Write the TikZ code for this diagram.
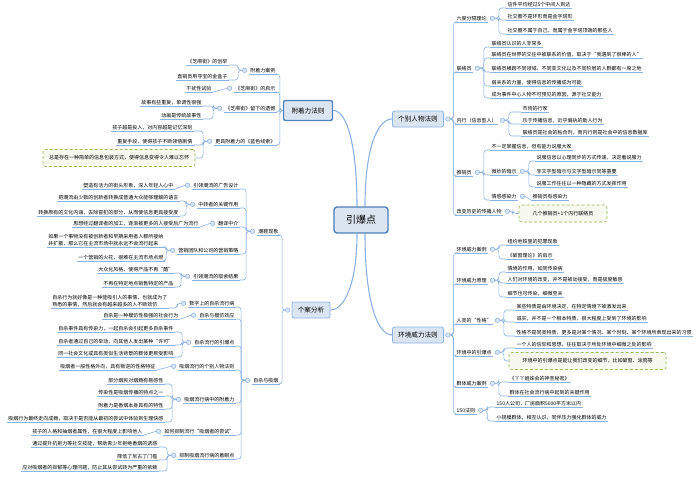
\documentclass[tikz,border=0pt]{standalone}
\usepackage{fontspec}
\setmainfont{Noto Sans CJK SC}
\usetikzlibrary{positioning}

\definecolor{lineblue}{HTML}{8DB3E2}
\definecolor{boxfill}{HTML}{DBE5F1}
\definecolor{hubline}{HTML}{4F81BD}
\definecolor{memoline}{HTML}{9BBB59}
\definecolor{memofill}{HTML}{F7F9EE}

\tikzset{
  hub/.style={draw=hubline, fill=boxfill, line width=1.4pt, rounded corners=3pt,
    minimum width=54pt, minimum height=26pt, font=\fontsize{10}{12}\selectfont},
  major/.style={draw=lineblue, fill=boxfill, line width=.8pt, rounded corners=2pt,
    minimum width=51pt, minimum height=16pt, font=\fontsize{6.6}{7.5}\selectfont},
  cn/.style={draw=lineblue, line width=.6pt, rounded corners=3pt},
  uline/.style={draw=lineblue, line width=.6pt},
  tp/.style={font=\fontsize{5}{6.5}\selectfont, inner xsep=1.5pt, inner ysep=1.2pt,
    append after command={(\tikzlastnode.south west) edge[uline] (\tikzlastnode.south east)}},
  tpr/.style={tp, anchor=south west},
  tpl/.style={tp, anchor=south east, align=left},
  dot/.style={circle, draw=lineblue, fill=boxfill, line width=.5pt, inner sep=0pt, minimum size=4.5pt},
  memo/.style={draw=memoline, densely dashed, fill=memofill, line width=.6pt, rounded corners=2.5pt,
    minimum height=17pt, font=\fontsize{5}{6.5}\selectfont},
  trunk/.style={draw=lineblue, line width=1.1pt}
}

\begin{document}
\begin{tikzpicture}[x=1pt,y=-1pt]
\path[use as bounding box, fill=white] (0,0) rectangle (700,480);

\node[hub] (ybd) at (361,220) {引爆点};
\node[major, draw=hubline, line width=1.4pt, minimum width=49pt, minimum height=20pt] (fzl) at (308,110.5) {附着力法则};
\node[major] (gbrw) at (418,119) {个别人物法则};
\node[major, minimum width=38pt] (gafx) at (311,310) {个案分析};
\node[major] (hjwl) at (418,335) {环境威力法则};
\node[dot, right=1.5pt of gbrw] (gbrwd) {};
\node[dot, right=1.5pt of hjwl] (hjwld) {};
\node[dot, left=1.5pt of gafx] (gafxd) {};

\draw[trunk] ([xshift=-4pt]ybd.north) .. controls +(0,-60) and +(14,0) .. (fzl.east);
\draw[trunk] ([xshift=4pt]ybd.north) .. controls +(0,-60) and +(-14,0) .. (gbrw.west);
\draw[trunk] ([xshift=-4pt]ybd.south) .. controls +(0,50) and +(14,0) .. (gafx.east);
\draw[trunk] ([xshift=4pt]ybd.south) .. controls +(0,70) and +(-14,0) .. (hjwl.west);

% 个别人物法则
\foreach \y/\txt [count=\i] in {22/六度分隔理论, 72/联络员, 124/内行（信息型人）, 176/推销员, 215/改变历史的传播人物} {
  \node[tpr] (g\i) at (455,\y) {\txt};
  \node[dot, right=1.5pt of g\i] (g\i-d) {};
  \draw[cn] (gbrwd.east) -- ++(3,0) |- (g\i.south west);
}
\foreach \y/\txt [count=\i] in {8/信件平均经过5个中间人到达, 20/社交圈不是环形而是金字塔形, 34/社交圈不属于自己，而属于金字塔顶端的那些人} {
  \node[tpr] (g1-\i) at (506,\y) {\txt};
  \draw[cn] (g1-d.east) -- ++(4,0) |- (g1-\i.south west);
}
\foreach \y/\txt [count=\i] in {47/联络员认识的人非常多, 58/联络员在世界的交往中被联系的价值，取决于“我遇到了很棒的人”, 72/联络员横跨不同领域、不同亚文化以及不同阶层的人群都有一席之地, 86/弱关系的力量，使得信息的传播成为可能, 98/成为事件中心人物不可预见的原因，源于社交能力} {
  \node[tpr] (g2-\i) at (490,\y) {\txt};
  \draw[cn] (g2-d.east) -- ++(4,0) |- (g2-\i.south west);
}
\foreach \y/\txt [count=\i] in {112/市场的行家, 124/乐于传播信息，近乎偏执的助人行为, 136/联络员是社会的粘合剂，而内行则是社会中的信息数据库} {
  \node[tpr] (g3-\i) at (521,\y) {\txt};
  \draw[cn] (g3-d.east) -- ++(4,0) |- (g3-\i.south west);
}
\foreach \y/\txt [count=\i] in {150/不一定掌握信息，但有能力说服大家, 175/微妙的暗示, 200/情感感染力} {
  \node[tpr] (g4-\i) at (490,\y) {\txt};
  \draw[cn] (g4-d.east) -- ++(4,0) |- (g4-\i.south west);
}
\node[dot, right=1.5pt of g4-2] (g4-2-d) {};
\node[dot, right=1.5pt of g4-3] (g4-3-d) {};
\foreach \y/\txt [count=\i] in {161/说服信息以心理同步的方式传递，决定着说服力, 175/非文字型暗示与文字型暗示同等重要, 187/说服工作往往以一种隐藏的方式发挥作用} {
  \node[tpr] (g4-2-\i) at (535,\y) {\txt};
  \draw[cn] (g4-2-d.east) -- ++(4,0) |- (g4-2-\i.south west);
}
\node[tpr] (g4-3-1) at (531,200) {推销员有感染力};
\draw[cn] (g4-3-d.east) -- (g4-3-1.south west);
\node[memo, minimum width=88pt] (g5-1) at (563,213.5) {几个推销员+1个内行联络员};
\draw[cn] (g5-d.east) -- ++(3,0) |- (g5-1.west);

% 环境威力法则
\foreach \y/\txt [count=\i] in {253/环境威力案例, 284/环境威力原理, 324/人类的“性格”, 356/环境中的引爆点, 387/群体威力案例, 414/150法则} {
  \node[tpr] (h\i) at (455,\y) {\txt};
  \node[dot, right=1.5pt of h\i] (h\i-d) {};
  \draw[cn] (hjwld.east) -- ++(3,0) |- (h\i.south west);
}
\foreach \y/\txt [count=\i] in {245/纽约地铁里的犯罪现象, 259/《破窗理论》的启示} {
  \node[tpr] (h1-\i) at (506,\y) {\txt};
  \draw[cn] (h1-d.east) -- ++(4,0) |- (h1-\i.south west);
}
\foreach \y/\txt [count=\i] in {272/情境的作用，如同传染病, 283/人们对环境的改变，并不是被动接受，而是极度敏感, 297/细节也可传染，细微至关} {
  \node[tpr] (h2-\i) at (506,\y) {\txt};
  \draw[cn] (h2-d.east) -- ++(4,0) |- (h2-\i.south west);
}
\foreach \y/\txt [count=\i] in {310/某些特质是由环境决定，在特定情境下被激发出来, 322/诚实，并不是一个根本特质，很大程度上受到了环境的影响, 336/性格不是同类特质，更多是对某个情况、某个时刻、某个环境所表现出来的习惯} {
  \node[tpr] (h3-\i) at (515,\y) {\txt};
  \draw[cn] (h3-d.east) -- ++(4,0) |- (h3-\i.south west);
}
\node[tpr] (h4-1) at (515,348) {一个人的信仰和思想，往往取决于所处环境中细微之处的影响};
\node[memo, minimum width=157pt] (h4-2) at (587.5,361) {环境中的引爆点是能让我们改变的细节，比如破窗、涂鸦等};
\draw[cn] (h4-d.east) -- ++(4,0) |- (h4-1.south west);
\draw[cn] (h4-d.east) -- ++(4,0) |- (h4-2.west);
\foreach \y/\txt [count=\i] in {382/《丫丫姐妹会的神圣秘密》, 396/群体在社会流行病中起到的关键作用} {
  \node[tpr] (h5-\i) at (508,\y) {\txt};
  \draw[cn] (h5-d.east) -- ++(4,0) |- (h5-\i.south west);
}
\foreach \y/\txt [count=\i] in {407/150人公司，厂房面积5000平方米以内, 421/小规模群体，相互认识，同伴压力强化群体的威力} {
  \node[tpr] (h6-\i) at (495,\y) {\txt};
  \draw[cn] (h6-d.east) -- ++(4,0) |- (h6-\i.south west);
}

% 附着力法则
\foreach \y/\txt [count=\i] in {74/附着力案例, 92/《芝麻街》的启示, 112/《芝麻街》留下的遗憾, 145/更具附着力的《蓝色线索》} {
  \node[tpl] (f\i) at (277,\y) {\txt};
  \node[dot, left=1.5pt of f\i] (f\i-d) {};
  \draw[cn] (fzl.west) -- ++(-3,0) |- (f\i.south east);
}
\foreach \y/\txt [count=\i] in {65/《芝麻街》的创举, 80/直销员用寻宝的金盒子} {
  \node[tpl] (f1-\i) at (229,\y) {\txt};
  \draw[cn] (f1-d.west) -- ++(-4,0) |- (f1-\i.south east);
}
\node[tpl] (f2-1) at (213,92) {干扰性试验};
\draw[cn] (f2-d.west) -- (f2-1.south east);
\foreach \y/\txt [count=\i] in {106/故事有些重复，单调性很强, 119/动画是传统故事性} {
  \node[tpl] (f3-\i) at (203,\y) {\txt};
  \draw[cn] (f3-d.west) -- ++(-4,0) |- (f3-\i.south east);
}
\foreach \y/\txt [count=\i] in {131/孩子越是投入，对内容越是记忆深刻, 145/重复手段，使得孩子不断领悟剧情} {
  \node[tpl] (f4-\i) at (194,\y) {\txt};
  \draw[cn] (f4-d.west) -- ++(-4,0) |- (f4-\i.south east);
}
\node[memo, minimum width=152pt] (f4-3) at (119,158) {总是存在一种简单的信息包装方式，使得信息变得令人难以忘怀};
\draw[cn] (f4-d.west) -- ++(-4,0) |- (f4-3.east);

% 个案分析
\foreach \y/\txt [count=\i] in {235/潮鞋现象, 384/自杀与吸烟} {
  \node[tpl] (a\i) at (280,\y) {\txt};
  \node[dot, left=1.5pt of a\i] (a\i-d) {};
  \draw[cn] (gafxd.west) -- ++(-3,0) |- (a\i.south east);
}
\foreach \y/\txt [count=\i] in {189/引领潮流的广告设计, 208/中转者的关键作用, 227/翻译中介, 254/营销团队和公司的营销策略, 280/引领潮流的取舍结果} {
  \node[tpl] (a1-\i) at (240,\y) {\txt};
  \node[dot, left=1.5pt of a1-\i] (a1-\i-d) {};
  \draw[cn] (a1-d.west) -- ++(-4,0) |- (a1-\i.south east);
}
\node[tpl] (a1-1-1) at (175,189) {塑造有活力的街头形象，深入年轻人心中};
\draw[cn] (a1-1-d.west) -- (a1-1-1.south east);
\foreach \y/\txt [count=\i] in {201/把潮流由少数的创新者转换成普通大众能够理解的语言, 216/转换原有的文化内涵，去除冒犯的部分，从而使信息更具接受度} {
  \node[tpl] (a1-2-\i) at (180,\y) {\txt};
  \draw[cn] (a1-2-d.west) -- ++(-4,0) |- (a1-2-\i.south east);
}
\node[tpl] (a1-3-1) at (200,227) {思想经过翻译者的加工，逐渐被更多的人接受后广为流行};
\draw[cn] (a1-3-d.west) -- (a1-3-1.south east);
\foreach \y/\txt [count=\i] in {247/{如果一个事物没有被创新者和早期采用者人群所接纳\\并扩散，那么它在主流市场中就永远不会流行起来}, 261/一个营销的火花，很难在主流市场点燃} {
  \node[tpl] (a1-4-\i) at (165,\y) {\txt};
  \draw[cn] (a1-4-d.west) -- ++(-4,0) |- (a1-4-\i.south east);
}
\foreach \y/\txt [count=\i] in {273/大众化风格，使得产品不再“酷”, 287/不再在特定地点销售特定的产品} {
  \node[tpl] (a1-5-\i) at (175,\y) {\txt};
  \draw[cn] (a1-5-d.west) -- ++(-4,0) |- (a1-5-\i.south east);
}
\foreach \y/\txt [count=\i] in {307/数字上的自杀流行病, 319/自杀与模仿效应, 346/自杀流行的引爆点, 370/吸烟流行的个别人物法则, 403/吸烟流行病中的附着力, 435/如何抑制流行“吸烟者的尝试”, 459/抑制吸烟流行病的着眼点} {
  \node[tpl] (a2-\i) at (236,\y) {\txt};
  \node[dot, left=1.5pt of a2-\i] (a2-\i-d) {};
  \draw[cn] (a2-d.west) -- ++(-4,0) |- (a2-\i.south east);
}
\node[tpl] (a2-1-1) at (169,308) {自杀行为就好像是一种能吸引人的事情，也就成为了\\熟悉的事情，然后就会有越来越多的人不断效仿};
\draw[cn] (a2-1-d.west) -- ++(-4,0) |- (a2-1-1.south east);
\node[tpl] (a2-2-1) at (180,319) {自杀是一种模仿性极强的社会行为};
\draw[cn] (a2-2-d.west) -- (a2-2-1.south east);
\foreach \y/\txt [count=\i] in {332/自杀事件具有传染力，一起自杀会引起更多自杀事件, 345/自杀者通过自己的举动，向其他人发出某种“许可”, 357/同一社会文化或具有类似生活背景的群体更易受影响} {
  \node[tpl] (a2-3-\i) at (175,\y) {\txt};
  \draw[cn] (a2-3-d.west) -- ++(-4,0) |- (a2-3-\i.south east);
}
\node[tpl] (a2-4-1) at (157,370) {吸烟者一般性格外向，具有叛逆的性格特征};
\draw[cn] (a2-4-d.west) -- (a2-4-1.south east);
\foreach \y/\txt [count=\i] in {384/部分烟民对烟瘾有易感性, 396/传染性是吸烟传播的特点之一, 409/附着力是香烟本身具有的特性, 422/吸烟行为最终走向成瘾，取决于是否能从最初的尝试中体验到生理快感} {
  \node[tpl] (a2-5-\i) at (165,\y) {\txt};
  \draw[cn] (a2-5-d.west) -- ++(-4,0) |- (a2-5-\i.south east);
}
\node[tpl] (a2-6-1) at (144,435) {孩子的人格和抽烟者属性，在很大程度上影响他人};
\draw[cn] (a2-6-d.west) -- (a2-6-1.south east);
\foreach \y/\txt [count=\i] in {447/通过提升抗拒力等社交技能，帮助青少年拒绝香烟的诱惑, 460/降低了尼古丁门槛, 471/应对吸烟者的抑郁等心理问题，防止其从尝试转为严重的依赖} {
  \node[tpl] (a2-7-\i) at (159,\y) {\txt};
  \draw[cn] (a2-7-d.west) -- ++(-4,0) |- (a2-7-\i.south east);
}
\end{tikzpicture}
\end{document}
